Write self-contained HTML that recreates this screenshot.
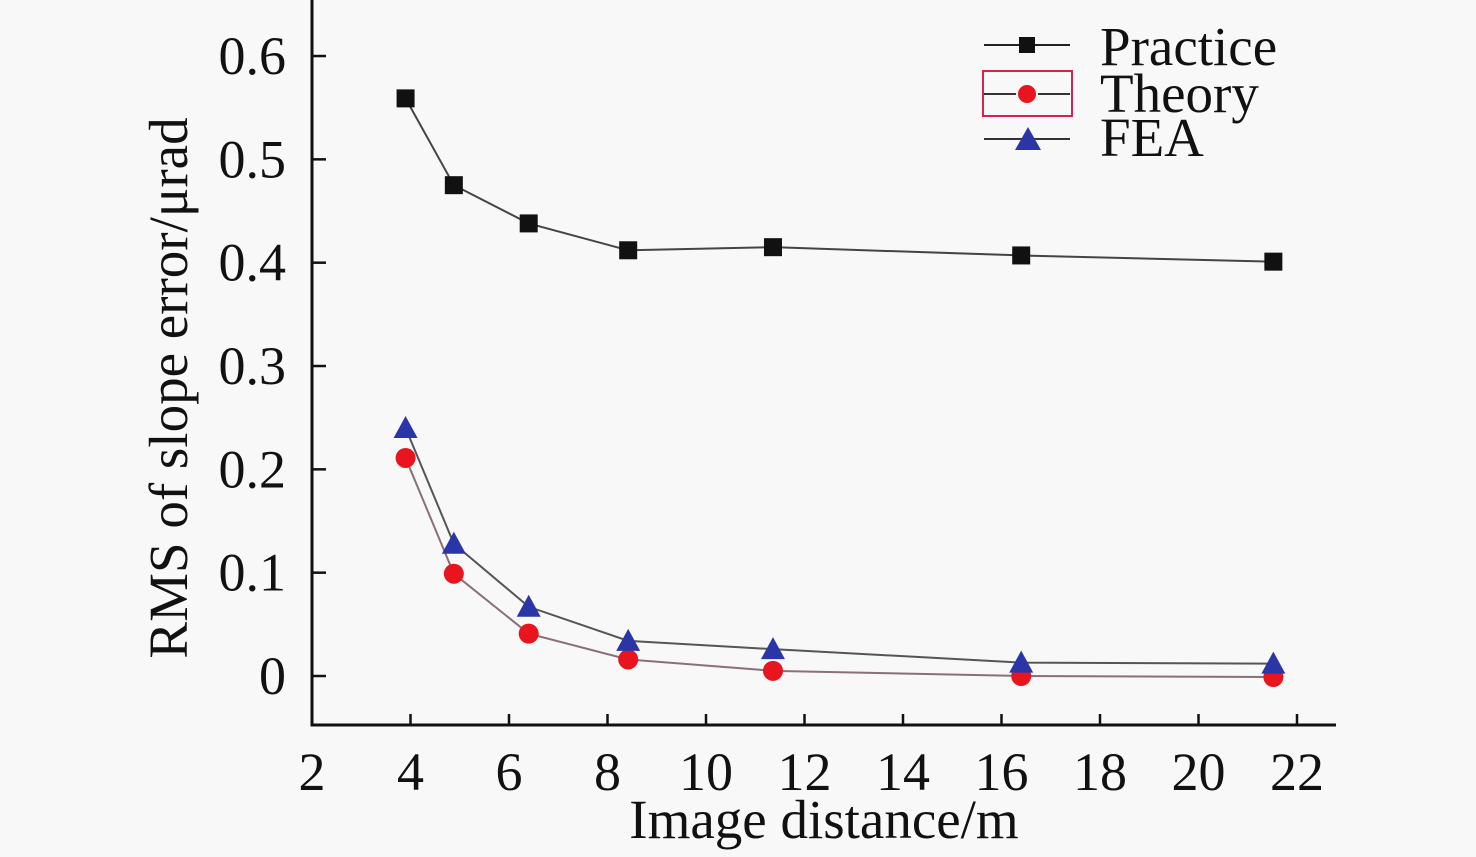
<!DOCTYPE html>
<html><head><meta charset="utf-8"><style>
html,body{margin:0;padding:0;background:#f8f8f8;}
svg{display:block;font-family:"Liberation Serif",serif;}
</style></head><body>
<svg id="chart" width="1476" height="857" viewBox="0 0 1476 857" xmlns="http://www.w3.org/2000/svg">
<rect width="1476" height="857" fill="#f8f8f8"/>
<g id="axes"></g>
<g id="series"></g>
<g id="legend">
  <g>
    <line x1="984" y1="45" x2="1070" y2="45" stroke="#222" stroke-width="2"/>
    <rect x="1019" y="37" width="16" height="16" fill="#111"/>
    <text x="1100" y="65" font-size="55" fill="#111">Practice</text>
  </g>
  <g>
    <rect x="983" y="71" width="89" height="45" fill="none" stroke="#d8224e" stroke-width="2"/>
    <line x1="984" y1="94" x2="1070" y2="94" stroke="#333" stroke-width="2"/>
    <circle cx="1027" cy="94" r="10" fill="#e8141e" stroke="#f8f8f8" stroke-width="2"/>
    <text x="1100" y="112" font-size="55" fill="#111">Theory</text>
  </g>
  <g>
    <line x1="984" y1="139" x2="1070" y2="139" stroke="#333" stroke-width="2"/>
    <polygon points="1028,127 1041,150 1015,150" fill="#2a36a8"/>
    <text x="1100" y="156" font-size="55" fill="#111">FEA</text>
  </g>
</g>
</svg>
<script>
const xTicks = [2,4,6,8,10,12,14,16,18,20,22];
const yTicks = [0,0.1,0.2,0.3,0.4,0.5,0.6];
const yTickLabels = ["0","0.1","0.2","0.3","0.4","0.5","0.6"];
const distances = [3.9,4.88,6.4,8.42,11.36,16.4,21.52];
const practice = [0.559,0.475,0.438,0.412,0.415,0.407,0.401];
const theory = [0.211,0.099,0.041,0.016,0.005,0.0,-0.001];
const fea = [0.240,0.128,0.067,0.034,0.026,0.013,0.012];

const NS="http://www.w3.org/2000/svg";
const X0=312, X1=1336, YAX=725;
function xs(v){return 312+(v-2)*49.25;}
function ys(v){return 676-v*1033.3;}
function mk(tag,attrs,parent){const e=document.createElementNS(NS,tag);for(const k in attrs)e.setAttribute(k,attrs[k]);parent.appendChild(e);return e;}
const axes=document.getElementById('axes');
const xa=mk('line',{x1:X0,y1:YAX,x2:X1,y2:YAX,stroke:'#111','stroke-width':3},axes);


const ya=mk('line',{x1:X0,y1:0,x2:X0,y2:YAX+1.5,stroke:'#111','stroke-width':3},axes);


xTicks.forEach(t=>{
  const x=xs(t);
  if(t>2){const l=mk('line',{x1:x,y1:YAX,x2:x,y2:YAX-11,stroke:'#111','stroke-width':2.5},axes);
    
    }
  const tx=mk('text',{x:x,y:790,'font-size':54,'text-anchor':'middle',fill:'#111'},axes);
  tx.textContent=t;
  
  
});
yTicks.forEach((t,i)=>{
  const y=ys(t);
  const l=mk('line',{x1:X0,y1:y,x2:X0+14,y2:y,stroke:'#111','stroke-width':2.5},axes);
  
  
  const tx=mk('text',{x:286,y:y+18,'font-size':54,'text-anchor':'end',fill:'#111'},axes);
  tx.textContent=yTickLabels[i];
  
  
});
const xt=mk('text',{x:824,y:838,'font-size':55,'text-anchor':'middle',fill:'#111'},axes);
xt.textContent='Image distance/m';


const yt=mk('text',{x:0,y:0,'font-size':55,'text-anchor':'middle',fill:'#111',transform:'translate(187,388) rotate(-90)'},axes);
yt.textContent='RMS of slope error/μrad';



const ser=document.getElementById('series');
function drawSeries(vals,name,shape,color,lineColor){
  const g=mk('g',{},ser);
  
  
  const pts=vals.map((v,i)=>xs(distances[i])+','+ys(v)).join(' ');
  const pl=mk('polyline',{points:pts,fill:'none',stroke:lineColor,'stroke-width':2},g);
  
  
  vals.forEach((v,i)=>{
    const x=xs(distances[i]),y=ys(v);let m;
    if(shape==='square')m=mk('rect',{x:x-9,y:y-9,width:18,height:18,fill:color},g);
    else if(shape==='circle')m=mk('circle',{cx:x,cy:y,r:10,fill:color},g);
    else m=mk('polygon',{points:`${x},${y-12} ${x+12},${y+10} ${x-12},${y+10}`,fill:color},g);
    
    
  });
}
drawSeries(practice,'practice','square','#111','#444');
drawSeries(theory,'theory','circle','#e8141e','#8a6f78');
drawSeries(fea,'fea','triangle','#2a36a8','#555');
</script>
</body></html>
